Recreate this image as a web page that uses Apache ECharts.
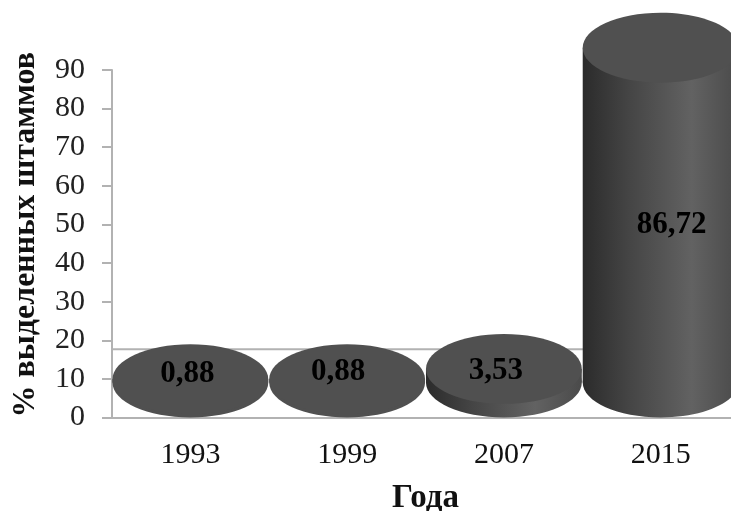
<!DOCTYPE html>
<html>
<head>
<meta charset="utf-8">
<style>html,body{margin:0;padding:0;background:#fff}#c{width:731px;height:511px}</style>
<script src="https://cdn.jsdelivr.net/npm/echarts@6/dist/echarts.min.js"></script>
</head>
<body>
<div id="c"></div>
<script>
const years = ['1993', '1999', '2007', '2015'];
const percents = [0.88, 0.88, 3.53, 86.72];
const yTicks = [0, 90, 10];

// Axis units used by the cylinder perspective: disc height and floor depth
const DISC_SPAN = 18.1;
const FLOOR_BACK = 17.7;
// Pixel nudges of the value captions from each cylinder's centre
const captionOffsets = [[-3, -5], [-9, -7], [-8, 2], [11, 0]];
const serif = '"Liberation Serif", serif';

const chart = echarts.init(document.getElementById('c'), null, {renderer: 'canvas'});

function renderCylinder(params, api) {
  const i = api.value(0);
  const v = api.value(1);
  const band = api.size([1, 0])[0];
  const rx = band * 0.497;
  const base = api.coord([i, DISC_SPAN / 2]);
  const top = api.coord([i, DISC_SPAN / 2 + v]);
  const ry = (api.coord([i, 0])[1] - base[1]);
  const capFill = '#505050';
  // Very thin discs show no shaded rim
  const sideFill = v < 2 ? capFill : new echarts.graphic.LinearGradient(0, 0, 1, 0, [
    {offset: 0, color: '#2b2b2b'},
    {offset: 0.3, color: '#454545'},
    {offset: 0.7, color: '#626262'},
    {offset: 1, color: '#4a4a4a'}
  ]);
  const mid = (top[1] + base[1]) / 2;
  const off = captionOffsets[i];
  const capY = v > 20 ? mid + 10 : top[1];
  return {
    type: 'group',
    children: [
      {type: 'ellipse', shape: {cx: base[0], cy: base[1], rx: rx, ry: ry}, style: {fill: sideFill}},
      {type: 'rect', shape: {x: base[0] - rx, y: top[1], width: rx * 2, height: base[1] - top[1]}, style: {fill: sideFill}},
      {type: 'ellipse', shape: {cx: top[0], cy: top[1], rx: rx, ry: ry}, style: {fill: capFill}},
      {type: 'text', style: {
        x: base[0] + off[0], y: capY + off[1],
        text: v.toFixed(2).replace('.', ','),
        font: 'bold 31px ' + serif, fill: '#000', align: 'center', verticalAlign: 'middle'
      }}
    ]
  };
}

function renderFloorBack(params, api) {
  const cs = params.coordSys;
  const y = api.coord([0, FLOOR_BACK])[1];
  return {
    type: 'line',
    shape: {x1: cs.x, y1: y, x2: cs.x + cs.width, y2: y},
    style: {stroke: '#b2b2b2', lineWidth: 2}
  };
}

chart.setOption({
  animation: false,
  backgroundColor: '#fff',
  grid: {left: 112, right: -8, top: 70, bottom: 93.5, outerBoundsMode: 'none'},
  xAxis: {
    type: 'category',
    data: years,
    axisLine: {lineStyle: {color: '#b2b2b2', width: 2}},
    axisTick: {show: false},
    axisLabel: {fontFamily: serif, fontSize: 30, color: '#111', margin: 23},
    name: 'Года',
    nameLocation: 'middle',
    nameGap: 64,
    nameTextStyle: {fontFamily: serif, fontWeight: 'bold', fontSize: 33, color: '#111'}
  },
  yAxis: {
    type: 'value',
    min: yTicks[0],
    max: yTicks[1],
    interval: yTicks[2],
    splitLine: {show: false},
    axisLine: {show: true, lineStyle: {color: '#b2b2b2', width: 2}},
    axisTick: {show: true, length: 10, lineStyle: {color: '#b2b2b2', width: 2}},
    axisLabel: {fontFamily: serif, fontSize: 30, color: '#222', margin: 27},
    name: '% выделенных штаммов',
    nameLocation: 'middle',
    nameGap: 70,
    nameRotate: 90,
    nameTextStyle: {fontFamily: serif, fontWeight: 'bold', fontSize: 32, color: '#111', padding: [0, 0, 0, 18]}
  },
  series: [
    {
      type: 'custom', silent: true, clip: false, z: 1,
      data: [[0, 0]],
      encode: {x: 0, y: 1},
      renderItem: renderFloorBack
    },
    {
      type: 'custom', silent: true, clip: false, z: 3,
      data: percents.map((p, i) => [i, p]),
      encode: {x: 0, y: 1},
      renderItem: renderCylinder
    }
  ]
});
</script>
</body>
</html>
